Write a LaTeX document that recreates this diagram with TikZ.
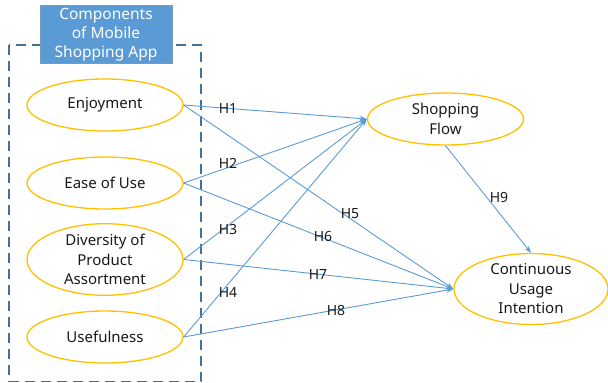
\documentclass[tikz,border=0pt]{standalone}
\usepackage{fontspec}
\setmainfont{Noto Sans}
\usetikzlibrary{shapes.geometric,arrows.meta}
\definecolor{linkblue}{RGB}{91,155,213}
\definecolor{boxblue}{RGB}{65,113,156}
\definecolor{titlefill}{RGB}{91,155,213}
\definecolor{gold}{RGB}{255,192,0}
\definecolor{txt}{RGB}{25,25,25}
\tikzset{
  construct/.style={ellipse, draw=gold, line width=1.3pt, minimum width=156pt, minimum height=52pt, inner sep=0pt, align=center, text=txt, font=\fontsize{15}{19.5}\selectfont},
  link/.style={draw=linkblue, line width=0.9pt, -{Stealth[length=7pt,width=5pt]}},
  hlabel/.style={text=txt, font=\fontsize{14}{15}\selectfont, inner sep=0pt},
}
\begin{document}
\begin{tikzpicture}[x=1pt,y=-1pt]
\useasboundingbox (0,0) rectangle (608,383);
% dashed group box
\draw[boxblue, line width=1.4pt, dash pattern=on 10pt off 6pt] (9,45) rectangle (201,381.5);
\node[fill=titlefill, draw=boxblue!70, line width=0.5pt, minimum width=132pt, minimum height=58pt, inner sep=0pt, align=center, text=white, font=\fontsize{15.5}{19}\selectfont] (title) at (106,34.5) {Components\\of Mobile\\Shopping App};
% constructs
\node[construct] (enj) at (105,105) {Enjoyment};
\node[construct] (ease) at (105,183) {Ease of Use};
\node[construct] (div) at (105,259.5) {Diversity of\\Product\\Assortment};
\node[construct] (use) at (105,337) {Usefulness};
\node[construct] (flow) at (445.5,119) {Shopping\\Flow};
\node[construct, minimum width=154pt, minimum height=53pt] (cui) at (531,289) {Continuous\\Usage\\Intention};
% links
\draw[link] (enj.east) -- (flow.west);
\draw[link] (ease.east) -- (flow.west);
\draw[link] (div.east) -- (flow.west);
\draw[link] (use.east) -- (flow.west);
\draw[link] (enj.east) -- (cui.west);
\draw[link] (ease.east) -- (cui.west);
\draw[link] (div.east) -- (cui.west);
\draw[link] (use.east) -- (cui.west);
\draw[link] (flow.south) -- (cui.north);
% labels
\node[hlabel] (h1) at (228,108.5) {H1};
\node[hlabel] (h2) at (228,163) {H2};
\node[hlabel] (h3) at (228,229) {H3};
\node[hlabel] (h4) at (228,292) {H4};
\node[hlabel] (h5) at (350,214) {H5};
\node[hlabel] (h6) at (323,236) {H6};
\node[hlabel] (h7) at (318,274) {H7};
\node[hlabel] (h8) at (336,310) {H8};
\node[hlabel] (h9) at (499,197) {H9};
\end{tikzpicture}
\end{document}
